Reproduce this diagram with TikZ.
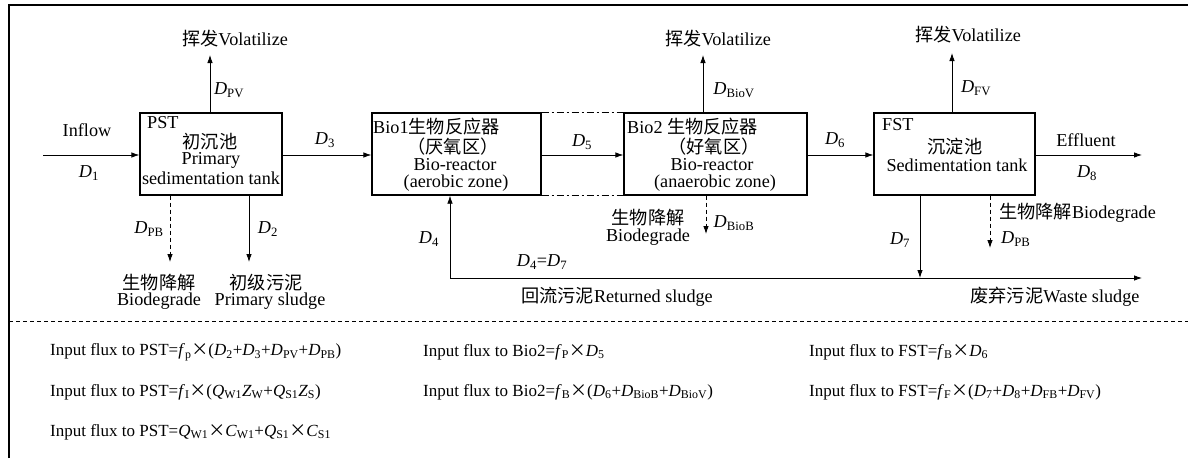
\documentclass[tikz,border=0pt]{standalone}
\usepackage{fontspec}
\setmainfont{Liberation Serif}
\newfontfamily\cjk{Noto Sans CJK SC}
\usetikzlibrary{arrows.meta}
\newcommand{\Dv}[1]{\textit{D}\textsubscript{#1}}
\newcommand{\Iv}[2]{\textit{#1}\textsubscript{#2}}
\newcommand{\tms}{{\cjk ×}}
\tikzset{
  box/.style={draw, line width=1.3pt, rectangle, minimum height=82pt, inner sep=0pt},
  arr/.style={-{Latex[length=8pt,width=5.5pt]}, line width=0.8pt},
  darr/.style={arr, dash pattern=on 4pt off 3pt},
  dd/.style={line width=1pt, dash pattern=on 7pt off 3pt on 2pt off 3pt},
  lbl/.style={inner sep=0pt, font=\fontsize{18.2}{20}\selectfont},
  eq/.style={inner sep=0pt, anchor=west, font=\fontsize{17}{19}\selectfont},
  frm/.style={line width=1.8pt},
}
\begin{document}
\begin{tikzpicture}[x=1pt,y=-1pt]
\useasboundingbox (0,0) rectangle (1188,458);
% frame
\coordinate (fa) at (9,458);
\coordinate (fb) at (9,5);
\coordinate (fc) at (1188,5);
\draw[frm] (fa) -- (fb) -- (fc);
\coordinate (sa) at (9,321);
\coordinate (sb) at (1188,321);
\draw[line width=0.8pt, dash pattern=on 4pt off 3pt] (sa) -- (sb);

% boxes
\node[box, minimum width=142pt] (pst) at (211,154) {};
\node[box, minimum width=169pt] (bio1) at (456.5,154) {};
\node[box, minimum width=183pt] (bio2) at (715.5,154) {};
\node[box, minimum width=161pt] (fst) at (954.5,154) {};

% box texts
\node[lbl, anchor=west] (pstA) at (147,123) {PST};
\node[lbl] (pstB) at (210,142) {\cjk 初沉池};
\node[lbl] (pstC) at (211,160) {Primary};
\node[lbl] (pstD) at (211,178) {sedimentation tank};

\node[lbl, anchor=west] (b1A) at (373,127) {Bio1{\cjk 生物反应器}};
\node[lbl] (b1B) at (453,147) {\cjk （厌氧区）};
\node[lbl] (b1C) at (455,165) {Bio-reactor};
\node[lbl] (b1D) at (456,183) {(aerobic zone)};

\node[lbl, anchor=west] (b2A) at (627,127) {Bio2 {\cjk 生物反应器}};
\node[lbl] (b2B) at (714,147) {\cjk （好氧区）};
\node[lbl] (b2C) at (712,165) {Bio-reactor};
\node[lbl] (b2D) at (715,183) {(anaerobic zone)};

\node[lbl, anchor=west] (fA) at (882,125) {FST};
\node[lbl] (fB) at (955,147) {\cjk 沉淀池};
\node[lbl] (fC) at (957,165) {Sedimentation tank};

% main flow
\coordinate (in) at (43,155);
\draw[arr] (in) -- (pst.west |- in);
\node[lbl] (inflow) at (87,130) {Inflow};
\node[lbl] (d1) at (89,173) {\Dv{1}};

\draw[arr] (pst.east |- in) -- (bio1.west |- in);
\node[lbl] (d3) at (325,140) {\Dv{3}};

\draw[arr] (bio1.east |- in) -- (bio2.west |- in);
\node[lbl] (d5) at (582,142) {\Dv{5}};
\draw[dd] (bio1.north east) -- (bio2.north west);
\draw[dd] (bio1.south east) -- (bio2.south west);

\draw[arr] (bio2.east |- in) -- (fst.west |- in);
\node[lbl] (d6) at (835,140) {\Dv{6}};

\coordinate (eff) at (1142,155);
\draw[arr] (fst.east |- eff) -- (eff);
\node[lbl] (effl) at (1086,140) {Effluent};
\node[lbl] (d8) at (1087,173) {\Dv{8}};

% volatilize
\coordinate (pv) at (210,55);
\draw[arr] (pv |- pst.north) -- (pv);
\node[lbl] (pvl) at (235,39) {{\cjk 挥发}Volatilize};
\node[lbl] (dpv) at (229,90) {\Dv{PV}};

\coordinate (bv) at (703,55);
\draw[arr] (bv |- bio2.north) -- (bv);
\node[lbl] (bvl) at (718,39) {{\cjk 挥发}Volatilize};
\node[lbl] (dbv) at (734,90) {\Dv{BioV}};

\coordinate (fv) at (952,53);
\draw[arr] (fv |- fst.north) -- (fv);
\node[lbl] (fvl) at (968,35) {{\cjk 挥发}Volatilize};
\node[lbl] (dfv) at (976,88) {\Dv{FV}};

% PST down
\coordinate (pb) at (170,262);
\draw[darr] (pb |- pst.south) -- (pb);
\node[lbl] (dpb) at (149,229) {\Dv{PB}};
\coordinate (p2) at (249,262);
\draw[arr] (p2 |- pst.south) -- (p2);
\node[lbl] (d2) at (268,229) {\Dv{2}};
\node[lbl] (bdA) at (159,283) {\cjk 生物降解};
\node[lbl] (bdB) at (159,301) {Biodegrade};
\node[lbl] (psA) at (266,283) {\cjk 初级污泥};
\node[lbl] (psB) at (270,301) {Primary sludge};

% Bio2 down
\coordinate (bb) at (706,234);
\draw[darr] (bb |- bio2.south) -- (bb);
\node[lbl] (dbb) at (734,223) {\Dv{BioB}};
\node[lbl] (b2bA) at (648,218) {\cjk 生物降解};
\node[lbl] (b2bB) at (648,237) {Biodegrade};

% return and waste
\coordinate (rc) at (450,278);
\coordinate (wend) at (1142,278);
\draw[arr] (rc) -- (rc |- bio1.south);
\draw[arr] (rc) -- (wend);
\node[lbl] (d4) at (429,239) {\Dv{4}};
\node[lbl] (d47) at (542,262) {\Dv{4}=\Dv{7}};
\node[lbl] (retl) at (617,297) {{\cjk 回流污泥}Returned sludge};
\node[lbl] (wastel) at (1055,297) {{\cjk 废弃污泥}Waste sludge};

\coordinate (f7) at (920,278);
\draw[arr] (f7 |- fst.south) -- (f7);
\node[lbl] (d7) at (900,240) {\Dv{7}};

\coordinate (fb2) at (990,248);
\draw[darr] (fb2 |- fst.south) -- (fb2);
\node[lbl, anchor=west] (fbl) at (999,213) {{\cjk 生物降解}Biodegrade};
\node[lbl, anchor=west] (dfpb) at (1001,239) {\Dv{PB}};

% formulas
\node[eq] (e1) at (50,352) {Input flux to PST=\Iv{f}{p}\tms(\Dv{2}+\Dv{3}+\Dv{PV}+\Dv{PB})};
\node[eq] (e2) at (50,392) {Input flux to PST=\Iv{f}{I}\tms(\Iv{Q}{W1}\Iv{Z}{W}+\Iv{Q}{S1}\Iv{Z}{S})};
\node[eq] (e3) at (50,432) {Input flux to PST=\Iv{Q}{W1}\tms\Iv{C}{W1}+\Iv{Q}{S1}\tms\Iv{C}{S1}};
\node[eq] (e4) at (423,352) {Input flux to Bio2=\Iv{f}{P}\tms\Dv{5}};
\node[eq] (e5) at (423,392) {Input flux to Bio2=\Iv{f}{B}\tms(\Dv{6}+\Dv{BioB}+\Dv{BioV})};
\node[eq] (e6) at (809,352) {Input flux to FST=\Iv{f}{B}\tms\Dv{6}};
\node[eq] (e7) at (809,392) {Input flux to FST=\Iv{f}{F}\tms(\Dv{7}+\Dv{8}+\Dv{FB}+\Dv{FV})};
\end{tikzpicture}
\end{document}
